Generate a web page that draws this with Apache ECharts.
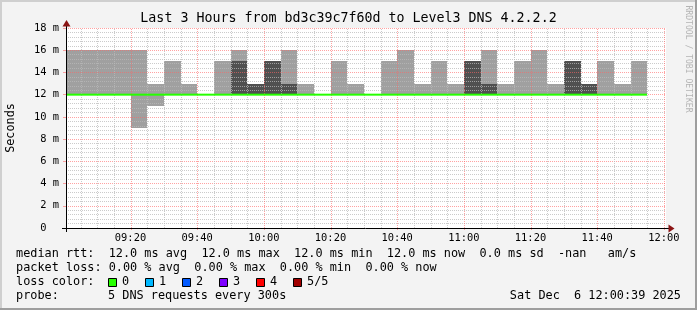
<!DOCTYPE html>
<html><head><meta charset="utf-8">
<script src="https://cdn.jsdelivr.net/npm/echarts@6/dist/echarts.min.js"></script>
<style>html,body{margin:0;padding:0;background:#f3f3f3;}#c{width:697px;height:310px;}</style>
</head><body><div id="c"></div>
<script>
// ---------- data ----------
const chartTitle = 'Last 3 Hours from bd3c39c7f60d to Level3 DNS 4.2.2.2';
const startTime = '09:00:39';
const endTime = '12:00:39';
const stepMinutes = 5;
const intervalStarts = ['09:00','09:05','09:10','09:15','09:20','09:25','09:30','09:35','09:40','09:45',
  '09:50','09:55','10:00','10:05','10:10','10:15','10:20','10:25','10:30','10:35',
  '10:40','10:45','10:50','10:55','11:00','11:05','11:10','11:15','11:20','11:25',
  '11:30','11:35','11:40','11:45','11:50'];
const smokeLightLo = [12,12,12,12,9,11,12,12,null,12, 12,null,null,12,12,null,12,12,null,12, 12,12,12,12,null,12,12,12,12,12, null,null,12,12,12];
const smokeLightHi = [16,16,16,16,16,13,15,13,null,15, 16,null,null,16,13,null,15,13,null,15, 16,13,15,13,null,16,13,15,16,13, null,null,15,13,15];
const smokeDarkLo  = [null,null,null,null,null,null,null,null,null,null, 12,12,12,12,null,null,null,null,null,null, null,null,null,null,12,12,null,null,null,null, 12,12,null,null,null];
const smokeDarkHi  = [null,null,null,null,null,null,null,null,null,null, 15,13,15,13,null,null,null,null,null,null, null,null,null,null,15,13,null,null,null,null, 15,13,null,null,null];
const medianRtt = [12,12,12,12,12,12,12,12,12,12, 12,12,12,12,12,12,12,12,12,12, 12,12,12,12,12,12,12,12,12,12, 12,12,12,12,12];
const xMajorTicks = ['09:20','09:40','10:00','10:20','10:40','11:00','11:20','11:40','12:00'];
const yMin = 0, yMax = 18, yStep = 2;
const legendLine1 = 'median rtt:  12.0 ms avg  12.0 ms max  12.0 ms min  12.0 ms now  0.0 ms sd  -nan   am/s';
const legendLine2 = 'packet loss: 0.00 % avg  0.00 % max  0.00 % min  0.00 % now';
const lossLabel = 'loss color:';
const lossNames = ['0','1','2','3','4','5/5'];
const lossColors = ['#26ff00','#00b8ff','#0059ff','#7e00ff','#ff0000','#a10000'];
const probeLabel = 'probe:';
const probeText = '5 DNS requests every 300s';
const dateText = 'Sat Dec  6 12:00:39 2025';
const yAxisName = 'Seconds';
const watermark = 'RRDTOOL / TOBI OETIKER';

// ---------- helpers ----------
const toMin = s => { const p = s.split(':').map(Number); return p[0]*60 + p[1] + (p[2]||0)/60; };
const fmt = m => { const h = Math.floor(m/60), mm = Math.round(m%60); return String(h).padStart(2,'0')+':'+String(mm).padStart(2,'0'); };
const xMin = toMin(startTime), xMax = toMin(endTime);
const MONO = '"DejaVu Sans Mono", monospace';
const GRID_MINOR = 'rgba(185,185,185,0.75)';
const GRID_MAJOR = 'rgba(255,100,100,0.6)';

const lightData = [], darkData = [], medData = [];
intervalStarts.forEach((t,i) => {
  const s = toMin(t);
  if (smokeLightLo[i] != null) lightData.push([s, smokeLightLo[i], smokeLightHi[i]]);
  if (smokeDarkLo[i] != null) darkData.push([s, smokeDarkLo[i], smokeDarkHi[i]]);
  if (medianRtt[i] != null) medData.push([s, medianRtt[i]]);
});
const majorSet = new Set(xMajorTicks.map(toMin));
const gridData = [];
for (let t = Math.ceil(xMin/stepMinutes)*stepMinutes; t <= xMax; t += stepMinutes) gridData.push([t, majorSet.has(t) ? 1 : 0]);

function smokeRender(color) {
  return function (params, api) {
    const s = api.value(0), lo = api.value(1), hi = api.value(2);
    const p1 = api.coord([s, hi]), p2 = api.coord([s + stepMinutes, lo]);
    const x1 = Math.round(p1[0]), x2 = Math.round(p2[0]);
    const y1 = Math.round(p1[1]), y2 = Math.round(p2[1]);
    return { type: 'rect', shape: { x: x1, y: y1, width: x2 - x1, height: y2 - y1 }, style: { fill: color } };
  };
}

const chart = echarts.init(document.getElementById('c'), null, { renderer: 'canvas' });
const boxX = [108, 145, 182, 219, 256, 293];
const graphics = [
  { type: 'rect', shape: { x: 0, y: 0, width: 697, height: 2 }, style: { fill: '#cfcfcf' }, z: 100 },
  { type: 'rect', shape: { x: 0, y: 0, width: 2, height: 310 }, style: { fill: '#cfcfcf' }, z: 100 },
  { type: 'rect', shape: { x: 0, y: 308, width: 697, height: 2 }, style: { fill: '#9e9e9e' }, z: 101 },
  { type: 'rect', shape: { x: 695, y: 0, width: 2, height: 310 }, style: { fill: '#9e9e9e' }, z: 101 },
  { type: 'text', x: 348.5, y: 19, style: { text: chartTitle, font: '13.3px ' + MONO, fill: '#000', align: 'center', verticalAlign: 'middle' }, z: 50 },
  { type: 'text', x: 10.5, y: 128, rotation: Math.PI/2, style: { text: yAxisName, font: '11.8px ' + MONO, fill: '#000', align: 'center', verticalAlign: 'middle' }, z: 50 },
  { type: 'text', x: 688, y: 59, rotation: -Math.PI/2, style: { text: watermark, font: '8.1px ' + MONO, fill: '#b4b4b4', align: 'center', verticalAlign: 'middle' }, z: 50 },
  { type: 'line', shape: { x1: 66.5, y1: 232, x2: 66.5, y2: 24 }, style: { stroke: '#000', lineWidth: 1 }, z: 60 },
  { type: 'line', shape: { x1: 62, y1: 228.5, x2: 669, y2: 228.5 }, style: { stroke: '#000', lineWidth: 1 }, z: 60 },
  { type: 'polygon', shape: { points: [[62.5, 26.5], [70.5, 26.5], [66.5, 20]] }, style: { fill: '#8b1414' }, z: 61 },
  { type: 'polygon', shape: { points: [[668.5, 224.5], [668.5, 232.5], [674.5, 228.5]] }, style: { fill: '#8b1414' }, z: 61 },
  { type: 'text', x: 16, y: 254, style: { text: legendLine1, font: '11.85px ' + MONO, fill: '#000', align: 'left', verticalAlign: 'middle' }, z: 50 },
  { type: 'text', x: 16, y: 268, style: { text: legendLine2, font: '11.85px ' + MONO, fill: '#000', align: 'left', verticalAlign: 'middle' }, z: 50 },
  { type: 'text', x: 16, y: 282, style: { text: lossLabel, font: '11.85px ' + MONO, fill: '#000', align: 'left', verticalAlign: 'middle' }, z: 50 },
  { type: 'text', x: 16, y: 296, style: { text: probeLabel, font: '11.85px ' + MONO, fill: '#000', align: 'left', verticalAlign: 'middle' }, z: 50 },
  { type: 'text', x: 108, y: 296, style: { text: probeText, font: '11.85px ' + MONO, fill: '#000', align: 'left', verticalAlign: 'middle' }, z: 50 },
  { type: 'text', x: 681, y: 296, style: { text: dateText, font: '11.85px ' + MONO, fill: '#000', align: 'right', verticalAlign: 'middle' }, z: 50 }
];
lossNames.forEach((n, i) => {
  graphics.push({ type: 'rect', shape: { x: boxX[i] + 0.5, y: 278.5, width: 8, height: 8 }, style: { fill: lossColors[i], stroke: '#000', lineWidth: 1 }, z: 50 });
  graphics.push({ type: 'text', x: boxX[i] + 14, y: 282, style: { text: n, font: '11.85px ' + MONO, fill: '#000', align: 'left', verticalAlign: 'middle' }, z: 50 });
});

chart.setOption({
  animation: false,
  backgroundColor: '#f3f3f3',
  grid: { left: 66, top: 28, width: 600, height: 200, show: true, backgroundColor: '#ffffff', borderWidth: 0, containLabel: false },
  xAxis: {
    type: 'value', min: xMin, max: xMax,
    axisLine: { show: false },
    axisTick: { show: false },
    splitLine: { show: false },
    axisLabel: {
      customValues: xMajorTicks.map(toMin),
      formatter: v => fmt(v),
      fontFamily: MONO, fontSize: 10.4, color: '#000', margin: 5, showMinLabel: true, showMaxLabel: true, hideOverlap: false
    }
  },
  yAxis: {
    type: 'value', min: yMin, max: yMax, interval: yStep, z: 4,
    axisLine: { show: false },
    axisTick: { show: true, length: 3, lineStyle: { color: GRID_MAJOR } },
    axisLabel: { formatter: v => v === 0 ? '0  ' : v + ' m', fontFamily: MONO, fontSize: 10.4, color: '#000', margin: 7 },
    splitLine: { show: true, lineStyle: { color: GRID_MAJOR, width: 1, type: [1, 1] } },
    minorTick: { show: false, splitNumber: 5 },
    minorSplitLine: { show: true, lineStyle: { color: GRID_MINOR, width: 1, type: [1, 1] } }
  },
  series: [
    { type: 'custom', name: 'smoke-light', data: lightData, renderItem: smokeRender('#a0a0a0'), clip: true, z: 2, silent: true },
    { type: 'custom', name: 'smoke-dark', data: darkData, renderItem: smokeRender('#505050'), clip: true, z: 3, silent: true },
    { type: 'custom', name: 'xgrid', data: gridData, clip: false, z: 4, silent: true,
      renderItem: (params, api) => {
        const t = api.value(0), major = api.value(1);
        const p0 = api.coord([t, yMin]), p1 = api.coord([t, yMax]);
        const x = Math.round(p0[0]) + 0.5;
        return { type: 'line', shape: { x1: x, y1: p0[1] + (major ? 2 : 0), x2: x, y2: p1[1] },
          style: { stroke: major ? GRID_MAJOR : GRID_MINOR, lineWidth: 1, lineDash: [1, 1] } };
      } },
    { type: 'custom', name: 'median', data: medData, clip: true, z: 6, silent: true,
      renderItem: (params, api) => {
        const s = api.value(0), v = api.value(1);
        const p1 = api.coord([s, v]), p2 = api.coord([s + stepMinutes, v]);
        return { type: 'line', shape: { x1: Math.round(p1[0]), y1: p1[1], x2: Math.round(p2[0]), y2: p2[1] }, style: { stroke: '#26ff00', lineWidth: 2 } };
      } }
  ],
  graphic: graphics
});
</script>
</body></html>
